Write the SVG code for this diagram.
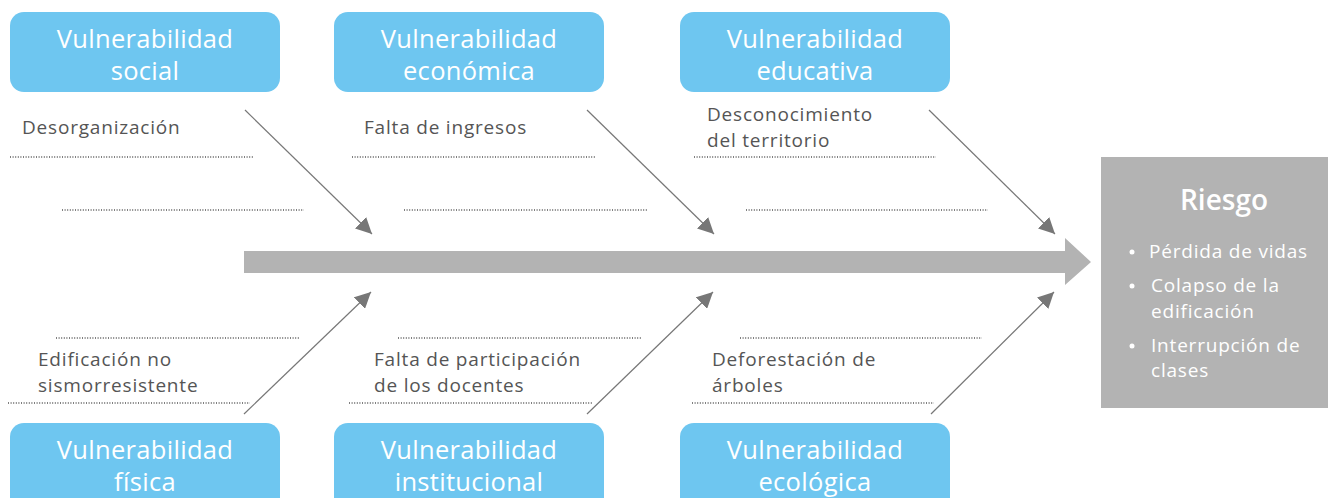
<svg xmlns="http://www.w3.org/2000/svg" width="1328" height="498" viewBox="0 0 1328 498">
<style>
.box{fill:#6EC6F0}
.bt{font-family:"Open Sans","Liberation Sans",sans-serif;font-size:25.5px;letter-spacing:0.3px;fill:#fff;text-anchor:middle}
.lab{font-family:"Open Sans","Liberation Sans",sans-serif;font-size:19px;letter-spacing:0.8px;fill:#555}
.dot{stroke:#555;stroke-width:1.5;stroke-dasharray:1 1.6;fill:none}
.diag{stroke:#777;stroke-width:1.2;fill:none;marker-end:url(#ah)}
.rt{font-family:"Open Sans","Liberation Sans",sans-serif;fill:#fff}
</style>
<defs>
<marker id="ah" viewBox="0 0 10 10" refX="10" refY="5" markerWidth="16" markerHeight="16" markerUnits="userSpaceOnUse" orient="auto"><path d="M0,0 L10,5 L0,10 z" fill="#777"/></marker>
</defs>
<rect width="1328" height="498" fill="#fff"/>
<g id="connectors">
<polygon points="244,251 1065,251 1065,238 1091,262 1065,285 1065,273 244,273" fill="#B3B3B3"/>
<line class="diag" x1="245" y1="110" x2="372" y2="234"/>
<line class="diag" x1="587" y1="110" x2="714" y2="234"/>
<line class="diag" x1="929" y1="110" x2="1055" y2="234"/>
<line class="diag" x1="244" y1="414" x2="371" y2="292"/>
<line class="diag" x1="587" y1="414" x2="713" y2="292"/>
<line class="diag" x1="931" y1="414" x2="1054" y2="292"/>
<path class="dot" d="M10,157H253 M352,157H595 M694,157H936 M62,210H304 M404,210H647 M746,210H988 M56,338H299 M398,338H641 M740,338H982 M8,403H250 M349,403H592 M692,403H934"/>
</g>
<g id="social"><rect class="box" x="10" y="12" width="270" height="80" rx="14"/><text class="bt" x="145" y="48">Vulnerabilidad</text><text class="bt" x="145" y="80">social</text></g>
<g id="economica"><rect class="box" x="334" y="12" width="270" height="80" rx="14"/><text class="bt" x="469" y="48">Vulnerabilidad</text><text class="bt" x="469" y="80">económica</text></g>
<g id="educativa"><rect class="box" x="680" y="12" width="270" height="80" rx="14"/><text class="bt" x="815" y="48">Vulnerabilidad</text><text class="bt" x="815" y="80">educativa</text></g>
<g id="fisica"><rect class="box" x="10" y="423" width="270" height="90" rx="14"/><text class="bt" x="145" y="459">Vulnerabilidad</text><text class="bt" x="145" y="491">física</text></g>
<g id="institucional"><rect class="box" x="334" y="423" width="270" height="90" rx="14"/><text class="bt" x="469" y="459">Vulnerabilidad</text><text class="bt" x="469" y="491">institucional</text></g>
<g id="ecologica"><rect class="box" x="680" y="423" width="270" height="90" rx="14"/><text class="bt" x="815" y="459">Vulnerabilidad</text><text class="bt" x="815" y="491">ecológica</text></g>
<g id="labels">
<text class="lab" x="22" y="134">Desorganización</text>
<text class="lab" x="364" y="134">Falta de ingresos</text>
<text class="lab" x="707" y="121">Desconocimiento</text>
<text class="lab" x="707" y="147">del territorio</text>
<text class="lab" x="38" y="366">Edificación no</text>
<text class="lab" x="38" y="392">sismorresistente</text>
<text class="lab" x="374" y="366">Falta de participación</text>
<text class="lab" x="374" y="392">de los docentes</text>
<text class="lab" x="712" y="366">Deforestación de</text>
<text class="lab" x="712" y="392">árboles</text>
</g>
<g id="riesgo">
<rect x="1101" y="157" width="227" height="251" fill="#B3B3B3"/>
<text class="rt" x="1224" y="210" font-size="28" font-weight="600" text-anchor="middle">Riesgo</text>
<g font-size="19" letter-spacing="0.8">
<circle cx="1132" cy="252" r="2.5" fill="#fff"/><text class="rt" x="1149" y="258">Pérdida de vidas</text>
<circle cx="1132" cy="286" r="2.5" fill="#fff"/><text class="rt" x="1151" y="292">Colapso de la</text>
<text class="rt" x="1151" y="318">edificación</text>
<circle cx="1132" cy="346" r="2.5" fill="#fff"/><text class="rt" x="1151" y="352">Interrupción de</text>
<text class="rt" x="1151" y="377">clases</text>
</g>
</g>
</svg>
